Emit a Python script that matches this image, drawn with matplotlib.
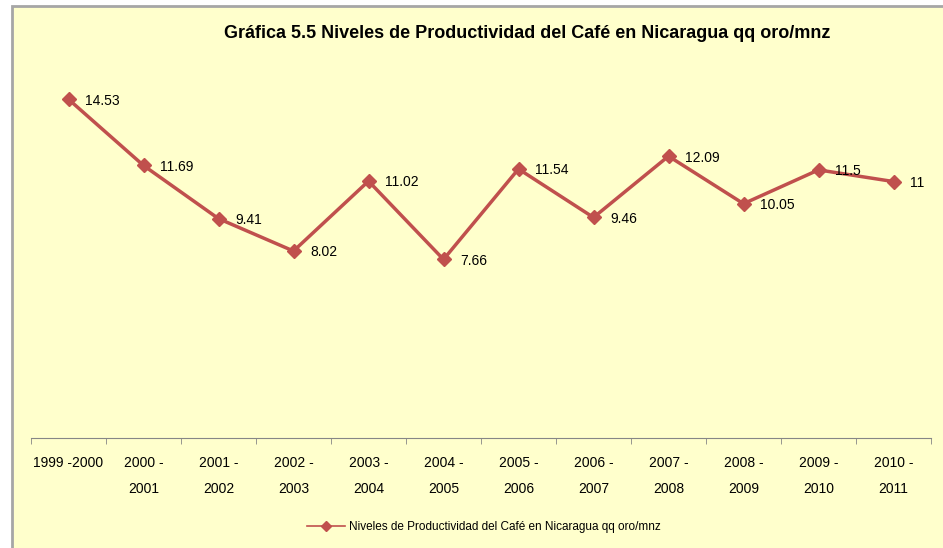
import matplotlib
matplotlib.use('Agg')
import matplotlib.pyplot as plt
from matplotlib.patches import Rectangle

# datos
periodos = ['1999 -2000', '2000 -\n2001', '2001 -\n2002', '2002 -\n2003', '2003 -\n2004',
            '2004 -\n2005', '2005 -\n2006', '2006 -\n2007', '2007 -\n2008', '2008 -\n2009',
            '2009 -\n2010', '2010 -\n2011']
productividad = [14.53, 11.69, 9.41, 8.02, 11.02, 7.66, 11.54, 9.46, 12.09, 10.05, 11.5, 11]
etiquetas = ['14.53', '11.69', '9.41', '8.02', '11.02', '7.66', '11.54', '9.46', '12.09',
             '10.05', '11.5', '11']
serie = 'Niveles de Productividad del Café en Nicaragua qq oro/mnz'

plt.rcParams['font.family'] = ['Liberation Sans', 'DejaVu Sans']
fondo = '#FFFFCC'
rojo = '#C0504D'

fig = plt.figure(figsize=(9.43, 5.48), dpi=100)
fig.patch.set_facecolor('white')
# marco del grafico
fig.patches.append(Rectangle((12 / 943, -0.1), 1.2, 1 - 6 / 548 + 0.1, transform=fig.transFigure,
                             facecolor=fondo, edgecolor='#A6A6A6', linewidth=2, zorder=-5))

ax = fig.add_axes([31 / 943, 110 / 548, 900 / 943, 373 / 548])
ax.set_facecolor('none')
x = list(range(len(periodos)))
ax.plot(x, productividad, color=rojo, linewidth=2.5, marker='D', markersize=7,
        label=serie, zorder=3)
for xi, yi, t in zip(x, productividad, etiquetas):
    ax.annotate(t, (xi, yi), xytext=(12, -1), textcoords='offset points',
                ha='left', va='center', fontsize=10, color='black')

ax.set_xlim(-0.5, len(periodos) - 0.5)
ax.set_ylim(0, 16)
ax.set_yticks([])
for s in ['left', 'right', 'top']:
    ax.spines[s].set_visible(False)
ax.spines['bottom'].set_color('#868686')
ax.set_xticks(x)
ax.set_xticklabels(periodos, fontsize=10, linespacing=2.05)
ax.tick_params(axis='x', length=0, pad=13)
ax.set_xticks([i - 0.5 for i in range(len(periodos) + 1)], minor=True)
ax.tick_params(axis='x', which='minor', length=4, color='#868686')

fig.text(527 / 943, 1 - 33 / 548, 'Gráfica 5.5 Niveles de Productividad del Café en Nicaragua qq oro/mnz',
         ha='center', va='center', fontsize=13, fontweight='bold')

leg = ax.legend(loc='center', bbox_to_anchor=(484 / 943, 21 / 548), bbox_transform=fig.transFigure,
                frameon=False, fontsize=8.5, handlelength=3.2, handletextpad=0.3)
for h in leg.legend_handles:
    h.set_linewidth(1.2)
    h.set_markersize(5)

fig.savefig('out.png', dpi=100)
